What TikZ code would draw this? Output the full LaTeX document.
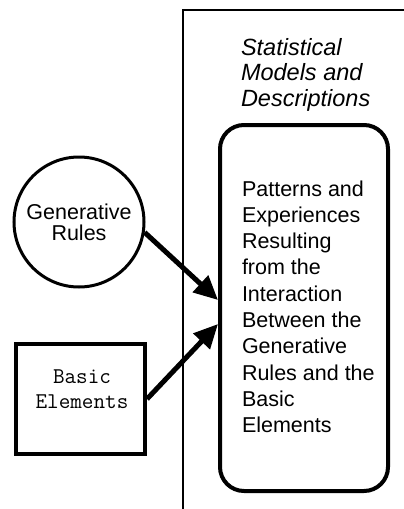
\documentclass[tikz,border=0pt]{standalone}
\usepackage{fontspec}
\setmainfont{Liberation Sans}
\usetikzlibrary{arrows.meta,calc}
\begin{document}
\begin{tikzpicture}[x=1pt,y=-1pt,
  thickline/.style={line width=4pt},
  bigarrow/.style={line width=5pt,-{Triangle[length=24pt,width=22pt]}},
  txt/.style={inner sep=0pt,outer sep=0pt},
]
\useasboundingbox (0,0) rectangle (404,509);
% outer frame
\coordinate (fbot) at (183,509);
\coordinate (fcor) at (183,10);
\coordinate (fright) at (404,10);
\draw[line width=1.8pt] (fbot) -- (fcor) -- (fright);
% title
\node[txt,anchor=north west,align=left,font=\fontsize{23.5}{25.7}\selectfont\itshape] (title) at (241,38)
  {Statistical\\Models and\\Descriptions};
% rounded box
\node[draw,thickline,rounded corners=24pt,minimum width=168pt,minimum height=366pt] (pe) at (304,308) {};
\node[txt,anchor=north west,align=left,font=\fontsize{21.5}{26.3}\selectfont] (petext) at (242,180.5)
  {Patterns and\\Experiences\\Resulting\\from the\\Interaction\\Between the\\Generative\\Rules and the\\Basic\\Elements};
% circle
\node[draw,circle,line width=3pt,minimum size=130pt,inner sep=0pt,align=center,font=\fontsize{21.5}{26}\selectfont] (gr) at (79,222)
  {\raisebox{-4pt}{\shortstack{Generative\\[2pt]Rules}}};
% square
\node[draw,thickline,minimum width=129pt,minimum height=110pt] (be) at (80.5,399) {};
\node[txt,align=center,font=\ttfamily\fontsize{22.5}{25}\selectfont] (betext) at (82,389) {Basic\\Elements};
% arrows
\draw[bigarrow] (gr.-9) -- ($(pe.west)+(0,-8)$);
\draw[bigarrow] (be.east) -- ($(pe.west)+(0,16)$);
\end{tikzpicture}
\end{document}
